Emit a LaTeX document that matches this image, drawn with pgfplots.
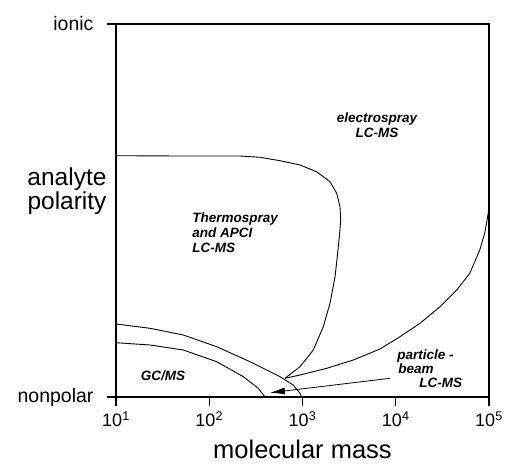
\documentclass[border=0pt]{standalone}
\usepackage{fontspec}
\setmainfont{Liberation Sans}
\usepackage{pgfplots}
\pgfplotsset{compat=1.18}
\usetikzlibrary{arrows.meta}

% x is plotted as log10(molecular mass), y as polarity 0 (nonpolar) .. 100 (ionic)
\newcommand{\lab}{\fontsize{13.5}{15}\selectfont\bfseries\itshape}

\begin{document}
\begin{tikzpicture}
\useasboundingbox (-116pt,-69pt) rectangle (398pt,397pt);
\begin{axis}[
  at={(0,0)}, anchor=south west,
  scale only axis,
  width=373pt, height=373pt,
  xmin=1, xmax=5, ymin=0, ymax=100,
  axis line style={line width=1.3pt},
  xtick={1,2,3,4,5},
  xticklabels={10\textsuperscript{1},10\textsuperscript{2},10\textsuperscript{3},10\textsuperscript{4},10\textsuperscript{5}},
  ytick={0,100},
  yticklabels={nonpolar,ionic},
  xtick pos=bottom, ytick pos=left,
  tick align=outside,
  major tick length=9pt,
  tick style={line width=1.1pt, black},
  xticklabel style={font=\fontsize{18}{20}\selectfont, yshift=-2pt},
  yticklabel style={font=\fontsize{19.5}{22}\selectfont, xshift=-10pt},
  clip=false,
]
% Thermospray / APCI boundary
\addplot[black, line width=0.9pt, no marks] coordinates {
(1.000,64.69) (1.686,64.61) (2.330,64.61) (2.544,64.26) (2.759,63.35)
(2.973,62.20) (3.152,60.40) (3.295,57.72) (3.367,54.61) (3.402,51.02)
(3.410,47.45) (3.395,42.98) (3.373,37.61) (3.349,32.25) (3.295,25.12)
(3.223,18.85) (3.116,12.60) (2.973,8.12) (2.812,5.01)};
% particle-beam / electrospray boundary
\addplot[black, line width=0.9pt, no marks] coordinates {
(2.812,5.01) (2.973,5.90) (3.260,7.69) (3.545,9.92) (3.831,12.87)
(4.046,16.17) (4.260,19.76) (4.475,24.21) (4.654,28.69) (4.794,33.16)
(4.901,39.41) (4.954,43.89) (4.992,49.25) (5.000,51.5)};
% outer GC/MS boundary
\addplot[black, line width=0.9pt, no marks] coordinates {
(1.000,19.57) (1.365,18.42) (1.722,16.62) (2.080,13.49) (2.437,9.46)
(2.759,5.44) (2.901,3.22) (2.973,0.99) (2.991,0)};
% inner GC/MS boundary
\addplot[black, line width=0.9pt, no marks] coordinates {
(1.000,14.56) (1.365,13.94) (1.722,12.60) (2.080,9.46) (2.365,5.44)
(2.526,2.33) (2.598,0)};
% arrow to the particle-beam band
\addplot[black, line width=0.8pt, no marks, -{Latex[length=15pt,width=7pt]}] coordinates {(3.938,5.01) (2.651,1.15)};

\node[align=center, font=\lab] at (axis cs:3.80,72.9) {electrospray\\LC-MS};
\node[align=left, anchor=west, font=\lab] at (axis cs:1.78,43.97) {Thermospray\\and APCI\\LC-MS};
\node[font=\lab] at (axis cs:1.504,5.63) {GC/MS};
\node[anchor=west, font=\lab] at (axis cs:3.98,10.99) {particle -};
\node[anchor=west, font=\lab] at (axis cs:3.99,7.51) {beam};
\node[anchor=west, font=\lab] at (axis cs:4.215,3.75) {LC-MS};

\node[anchor=base, font=\fontsize{25.5}{27}\selectfont] at (rel axis cs:0.5,0) [yshift=-61pt] {molecular mass};
\node[align=center, font=\fontsize{24.5}{24}\selectfont] at (rel axis cs:0,0) [xshift=-49pt, yshift=206pt] {analyte\\polarity};
\end{axis}
\end{tikzpicture}
\end{document}
